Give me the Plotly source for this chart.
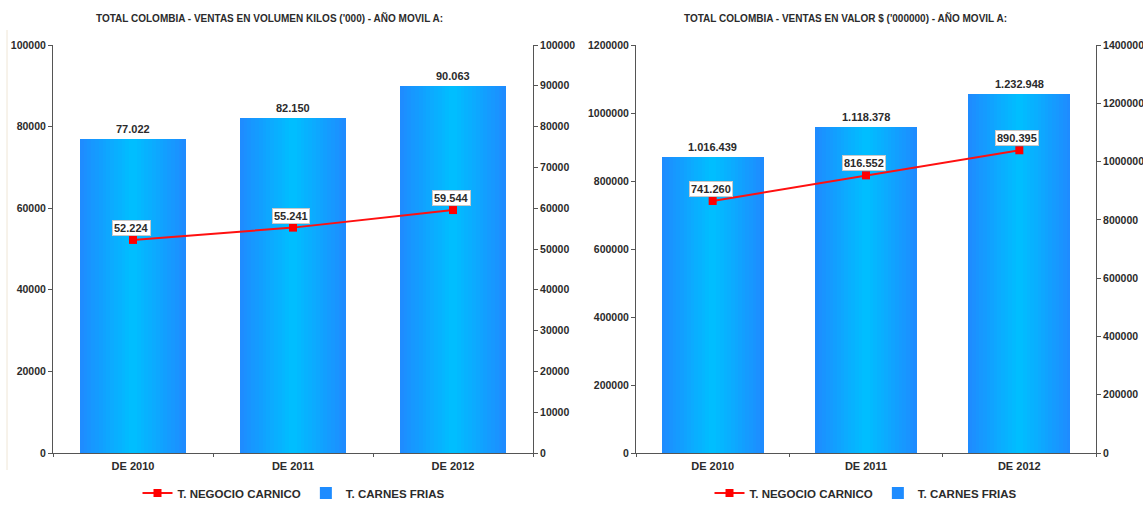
import plotly.graph_objects as go

# ---------------- data ----------------
categories = ["DE 2010", "DE 2011", "DE 2012"]

vol_carnes_frias = [77022, 82150, 90063]        # bars (kilos '000)
vol_negocio_carnico = [52224, 55241, 59544]     # line

val_carnes_frias = [1016439, 1118378, 1232948]  # bars ($ '000000)
val_negocio_carnico = [741260, 816552, 890395]  # line

title_left = "TOTAL COLOMBIA - VENTAS EN VOLUMEN KILOS ('000) - AÑO MOVIL A:"
title_right = "TOTAL COLOMBIA - VENTAS EN VALOR $ ('000000) - AÑO MOVIL A:"
name_line = "T. NEGOCIO CARNICO"
name_bar = "T. CARNES FRIAS"

# ---------------- styling ----------------
W, H = 1143, 510
FONT = "Liberation Sans, Arial, sans-serif"
TXT = "#2b2b2b"
AX = "#555555"
EDGE = (30, 140, 255)
CENTER = (0, 190, 255)
N_LAYERS = 14
BAR_W = 0.665


def fmt(v):
    return f"{v:,}".replace(",", ".")


def px_x(p):
    return p / W


def px_y(p):
    return 1 - p / H


fig = go.Figure()


def add_chart(xa, ya_line, ya_bar, bars, line, legend):
    # gradient bars: overlaid layers from edge colour to centre colour
    for k in range(N_LAYERS):
        t = k / (N_LAYERS - 1)
        c = tuple(round(EDGE[i] + (CENTER[i] - EDGE[i]) * t) for i in range(3))
        wk = BAR_W * (1 - k / N_LAYERS)
        fig.add_trace(go.Bar(
            x=categories, y=bars, width=[wk] * len(categories),
            marker=dict(color=f"rgb{c}", line=dict(width=0)),
            name=name_bar, showlegend=(k == 0), legend=legend, legendrank=2,
            xaxis=xa, yaxis=ya_bar, hoverinfo="skip",
        ))
    fig.add_trace(go.Scatter(
        x=categories, y=line, mode="lines+markers",
        line=dict(color="#FF1010", width=2),
        marker=dict(symbol="square", size=8, color="#FF0000"),
        name=name_line, legend=legend, legendrank=1,
        xaxis=xa, yaxis=ya_line,
    ))
    for c, v in zip(categories, bars):
        fig.add_annotation(x=c, y=v, xref=xa, yref=ya_bar, text=f"<b>{fmt(v)}</b>",
                           showarrow=False, yanchor="bottom", yshift=2,
                           font=dict(family=FONT, size=11, color=TXT))
    for c, v in zip(categories, line):
        fig.add_annotation(x=c, y=v, xref=xa, yref=ya_line, text=f"<b>{fmt(v)}</b>",
                           showarrow=False, yanchor="bottom", yshift=4, xshift=-2,
                           bgcolor="white", bordercolor="#c8c8c8", borderwidth=1,
                           borderpad=1,
                           font=dict(family=FONT, size=11, color=TXT))


# left chart: bars on base axis y (left), line on overlaying y2 (right; same scale)
add_chart("x", "y2", "y", vol_carnes_frias, vol_negocio_carnico, "legend")
# right chart: bars on base axis y3 (right scale), line on overlaying y4 (left scale)
add_chart("x2", "y4", "y3", val_carnes_frias, val_negocio_carnico, "legend2")

tickfont = dict(family=FONT, size=10.5, color=TXT, weight="bold")
ydom = [px_y(453), px_y(45)]

common_y = dict(showgrid=False, zeroline=False, showline=True, linecolor=AX,
                linewidth=1, ticks="outside", ticklen=4, tickcolor=AX,
                tickfont=tickfont, tickformat="d", automargin=False)
common_x = dict(showgrid=False, zeroline=False, showline=True, linecolor=AX,
                linewidth=1, ticks="outside", ticklen=3, tickcolor=AX,
                tickson="boundaries", type="category", range=[-0.5, 2.5],
                automargin=False, ticklabelstandoff=3,
                tickfont=dict(family=FONT, size=11, color=TXT, weight="bold"))

leg_font = dict(family=FONT, size=11.5, color=TXT, weight="bold")

fig.update_layout(
    width=W, height=H, margin=dict(l=0, r=0, t=0, b=0, autoexpand=False),
    paper_bgcolor="white", plot_bgcolor="white",
    barmode="overlay", bargap=0,
    font=dict(family=FONT, color=TXT),
    xaxis=dict(domain=[px_x(53), px_x(533)], anchor="y", **common_x),
    xaxis2=dict(domain=[px_x(636), px_x(1096)], anchor="y3", **common_x),
    yaxis=dict(anchor="x", side="left", range=[0, 100000], dtick=20000,
               domain=ydom, **common_y),
    yaxis2=dict(anchor="x", side="right", overlaying="y", range=[0, 100000],
                dtick=10000, **common_y),
    yaxis3=dict(anchor="x2", side="right", range=[0, 1400000], dtick=200000,
                domain=ydom, **common_y),
    yaxis4=dict(anchor="x2", side="left", overlaying="y3", range=[0, 1200000],
                dtick=200000, **common_y),
    legend=dict(orientation="h", x=px_x(294), xanchor="center", y=px_y(493),
                yanchor="middle", bgcolor="rgba(0,0,0,0)", font=leg_font,
                itemwidth=30, traceorder="normal"),
    legend2=dict(orientation="h", x=px_x(866), xanchor="center", y=px_y(493),
                 yanchor="middle", bgcolor="rgba(0,0,0,0)", font=leg_font,
                 itemwidth=30, traceorder="normal"),
)

fig.add_annotation(x=px_x(269), y=px_y(18), xref="paper", yref="paper",
                   xanchor="center", yanchor="middle",
                   text=f"<b>{title_left}</b>", showarrow=False,
                   font=dict(family=FONT, size=10, color=TXT))
fig.add_annotation(x=px_x(845), y=px_y(18), xref="paper", yref="paper",
                   xanchor="center", yanchor="middle",
                   text=f"<b>{title_right}</b>", showarrow=False,
                   font=dict(family=FONT, size=10, color=TXT))

# faint left border of the original image
fig.add_shape(type="line", xref="paper", yref="paper", x0=px_x(7), x1=px_x(7),
              y0=px_y(470), y1=px_y(30), line=dict(color="#efe6d6", width=1))

fig.write_html("out.html")
